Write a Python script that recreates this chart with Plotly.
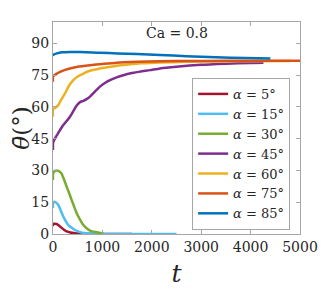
import plotly.graph_objects as go

# ---- data ----
t_5 = [0, 1, 20, 74, 130, 175, 230, 277, 350, 445, 550, 700, 900, 1200, 1600]
th_5 = [3.6, 4.6, 4.8, 4.7, 3.8, 2.9, 1.9, 1.2, 0.7, 0.4, 0.2, 0.08, 0.03, 0.01, 0.0]

t_15 = [0, 1, 30, 60, 108, 160, 209, 260, 310, 380, 445, 530, 615, 750, 900, 1200, 1600, 2000, 2500]
th_15 = [12.3, 14.4, 15.2, 14.9, 13.7, 10.9, 8.2, 6.0, 4.2, 2.9, 1.9, 1.0, 0.5, 0.2, 0.08, 0.02, 0.0, 0.0, 0.0]

t_30 = [0, 1, 30, 70, 108, 140, 175, 225, 277, 330, 378, 430, 480, 550, 615, 680, 749, 850, 951, 1020]
th_30 = [25.5, 28.5, 29.6, 30.0, 29.8, 29.3, 28.4, 25.6, 22.3, 19.1, 16.0, 12.8, 9.8, 6.7, 4.2, 2.7, 1.6, 0.9, 0.5, 0.3]

t_45 = [0, 1, 40, 90, 142, 200, 260, 344, 420, 480, 547, 615, 680, 749, 850, 951, 1050, 1154, 1289, 1424, 1600, 1761, 1964, 2166, 2500, 3000, 3500, 4000, 4260]
th_45 = [39.6, 43.0, 45.1, 47.0, 49.0, 51.2, 52.8, 55.3, 58.3, 60.6, 62.2, 62.8, 63.6, 64.8, 67.2, 69.5, 71.2, 72.6, 73.9, 74.9, 75.9, 76.6, 77.3, 78.1, 78.9, 79.8, 80.3, 80.7, 80.8]

t_60 = [0, 1, 50, 107, 170, 243, 320, 412, 510, 615, 750, 951, 1200, 1424, 1800, 2166, 2700, 3300, 4000, 4800]
th_60 = [55.3, 58.8, 59.6, 60.8, 63.5, 66.3, 69.8, 72.6, 74.4, 75.7, 77.0, 78.1, 79.0, 79.7, 80.5, 80.9, 81.2, 81.4, 81.5, 81.6]

t_75 = [0, 1, 60, 142, 230, 344, 500, 749, 1000, 1289, 1700, 2166, 2800, 3500, 4200, 5000]
th_75 = [71.8, 74.3, 75.4, 76.5, 77.3, 78.1, 78.9, 79.6, 80.2, 80.8, 81.2, 81.5, 81.6, 81.7, 81.7, 81.7]

t_85 = [0, 1, 80, 180, 344, 550, 800, 951, 1300, 1700, 2166, 2700, 3300, 3900, 4400]
th_85 = [83.9, 84.4, 85.2, 85.7, 85.9, 85.8, 85.6, 85.5, 85.2, 84.9, 84.4, 83.9, 83.4, 83.0, 82.8]

series = [
    ("5", t_5, th_5, "#A2142F"),
    ("15", t_15, th_15, "#4DBEEE"),
    ("30", t_30, th_30, "#77AC30"),
    ("45", t_45, th_45, "#7E2F8E"),
    ("60", t_60, th_60, "#EDB120"),
    ("75", t_75, th_75, "#D95319"),
    ("85", t_85, th_85, "#0072BD"),
]

x_ticks = [0, 1000, 2000, 3000, 4000, 5000]
y_ticks = [0, 15, 30, 45, 60, 75, 90]

FONT = "DejaVu Serif, Liberation Serif, serif"

fig = go.Figure()
for name, tx, ty, col in series:
    fig.add_trace(go.Scatter(
        x=tx, y=ty, mode="lines", line=dict(color=col, width=2.5, shape="spline", smoothing=0.6),
        name=f"<i>α</i> = {name}°",
    ))

axis_common = dict(
    showgrid=False, zeroline=False, showline=True, mirror="ticks",
    linecolor="#a6a6a6", linewidth=1, ticks="inside", ticklen=4,
    tickcolor="#a6a6a6", tickfont=dict(family=FONT, size=14, color="#262626"),
    automargin=False,
)

# the page body has an 8px margin, so the figure is sized/positioned to compensate
fig.update_layout(
    width=324, height=283,
    margin=dict(l=45, r=32, t=14, b=57, autoexpand=False),
    paper_bgcolor="white", plot_bgcolor="white",
    font=dict(family=FONT, color="#262626"),
    showlegend=True,
    legend=dict(
        x=0.96, y=0.736, xanchor="right", yanchor="top",
        bgcolor="white", bordercolor="#a6a6a6", borderwidth=1,
        font=dict(family=FONT, size=13, color="#262626"),
        itemwidth=30, tracegroupgap=0,
    ),
    xaxis=dict(
        range=[0, 5000], tickvals=x_ticks, ticktext=[str(v) for v in x_ticks],
        title=dict(text="<i>t</i>", font=dict(family=FONT, size=25, color="#262626"), standoff=10),
        **axis_common,
    ),
    yaxis=dict(
        range=[0, 100], tickvals=y_ticks, ticktext=[str(v) for v in y_ticks],
        title=dict(text="<i>θ̄</i>(°)", font=dict(family=FONT, size=23, color="#262626"), standoff=6),
        **axis_common,
    ),
    annotations=[dict(
        x=0.502, y=0.948, xref="paper", yref="paper", text="Ca = 0.8", showarrow=False,
        xanchor="center", yanchor="middle",
        font=dict(family=FONT, size=14, color="#262626"),
    )],
)

fig.write_html("out.html")
